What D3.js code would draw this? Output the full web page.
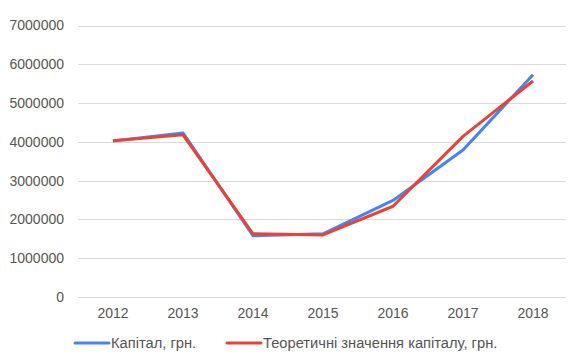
<!DOCTYPE html>
<html>
<head>
<meta charset="utf-8">
<script src="https://cdn.jsdelivr.net/npm/d3@7"></script>
<style>
  html, body { margin: 0; padding: 0; background: #fff; }
  svg { display: block; font-family: "Liberation Sans", Arial, sans-serif; }
</style>
</head>
<body>
<svg id="chart" width="572" height="361"></svg>
<script>
// Years on the horizontal axis
const years = ["2012", "2013", "2014", "2015", "2016", "2017", "2018"];
// Actual capital, UAH
const capital = [4020000, 4230000, 1580000, 1630000, 2490000, 3790000, 5730000];
// Theoretical capital values, UAH
const capitalTheory = [4030000, 4180000, 1630000, 1600000, 2340000, 4140000, 5570000];
// Vertical axis ticks
const yTicks = [0, 1000000, 2000000, 3000000, 4000000, 5000000, 6000000, 7000000];
// Legend labels
const seriesNames = ["Капітал, грн.", "Теоретичні значення капіталу, грн."];

const colors = ["#4285f4", "#ea4335"];
const svg = d3.select("#chart");

const margin = { left: 78, right: 4, top: 25.5, bottom: 64 };
const W = 572, H = 361;

const x = d3.scaleBand().domain(years).range([margin.left, W - margin.right]);
const y = d3.scaleLinear().domain([0, 7000000]).range([H - margin.bottom, margin.top]);

// Horizontal gridlines
svg.append("g").selectAll("line").data(yTicks).join("line")
  .attr("x1", margin.left).attr("x2", W - 6)
  .attr("y1", d => Math.round(y(d)) + 0.5).attr("y2", d => Math.round(y(d)) + 0.5)
  .attr("stroke", "#d9d9d9").attr("stroke-width", 1);

// Y axis labels
const yAxis = d3.axisLeft(y).tickValues(yTicks).tickFormat(d3.format("d")).tickSize(0).tickPadding(0);
const gy = svg.append("g").attr("transform", "translate(64,0)").call(yAxis);
gy.select(".domain").remove();
gy.selectAll("text").attr("font-size", 14).attr("fill", "#555").attr("font-family", "Liberation Sans, Arial, sans-serif");

// X axis labels
const xAxis = d3.axisBottom(x).tickSize(0).tickPadding(0);
const gx = svg.append("g").attr("transform", "translate(0,308)").call(xAxis);
gx.select(".domain").remove();
gx.selectAll("text").attr("font-size", 14).attr("fill", "#555").attr("font-family", "Liberation Sans, Arial, sans-serif");

// Lines
const line = d3.line()
  .x((d, i) => x(years[i]) + x.bandwidth() / 2)
  .y(d => y(d));

[capital, capitalTheory].forEach((series, k) => {
  svg.append("path")
    .datum(series)
    .attr("fill", "none")
    .attr("stroke", colors[k])
    .attr("stroke-width", 3)
    .attr("stroke-linejoin", "round")
    .attr("d", line);
});

// Legend
const legendItems = [
  { x: 75, name: seriesNames[0], color: colors[0] },
  { x: 227, name: seriesNames[1], color: colors[1] }
];
const lg = svg.append("g");
legendItems.forEach(it => {
  lg.append("line")
    .attr("x1", it.x).attr("x2", it.x + 34)
    .attr("y1", 343).attr("y2", 343)
    .attr("stroke", it.color).attr("stroke-width", 3).attr("stroke-linecap", "round");
  lg.append("text")
    .attr("x", it.x + 36).attr("y", 348)
    .attr("font-size", 14.7).attr("fill", "#555")
    .text(it.name);
});
</script>
</body>
</html>
